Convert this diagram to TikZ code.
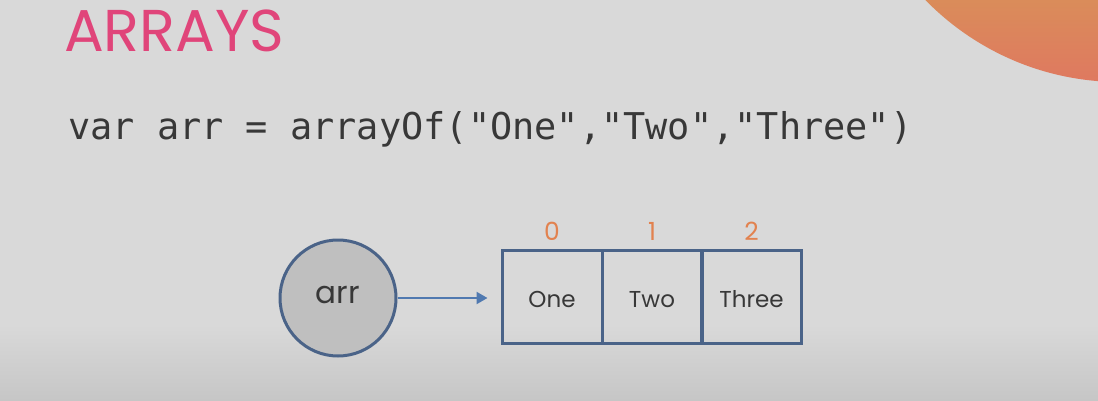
\documentclass[tikz,border=0pt]{standalone}
\usepackage{fontspec}
\setmainfont{Poppins}
\setmonofont{DejaVu Sans Mono}
\usetikzlibrary{arrows.meta}
\definecolor{bg}{HTML}{D9D9D9}
\definecolor{bgdark}{HTML}{C6C6C6}
\definecolor{titlepink}{HTML}{E0457A}
\definecolor{codegray}{HTML}{383838}
\definecolor{edgeblue}{HTML}{4A6388}
\definecolor{arrowblue}{HTML}{5079B0}
\definecolor{idxorange}{HTML}{E2824F}
\definecolor{blobtop}{HTML}{DA8C5A}
\definecolor{blobbottom}{HTML}{DF7860}
\definecolor{circfill}{HTML}{BFBFBF}
\tikzset{
  cell/.style={draw=edgeblue, line width=3pt, minimum width=100pt, minimum height=93pt,
    inner sep=0pt, text height=22pt, text depth=0pt,
    font=\fontsize{23}{26}\selectfont, text=codegray},
  index/.style={anchor=base, font=\fontsize{25}{28}\selectfont, text=idxorange},
  pointer/.style={arrowblue, line width=2.2pt, -{Triangle[length=11pt,width=12pt]}},
}
\begin{document}
\begin{tikzpicture}[x=1pt,y=-1pt]
  % backdrop with a darker band at the bottom
  \fill[bg] (0,0) rectangle (1098,401);
  \shade[top color=bg, bottom color=bgdark] (0,325) rectangle (1098,401);
  \useasboundingbox (0,0) rectangle (1098,401);
  % orange disc in the top right corner
  \begin{scope}
    \clip (1120,-190) circle (272);
    \shade[top color=blobtop, bottom color=blobbottom] (880,0) rectangle (1098,85);
  \end{scope}
  % heading and code line
  \node[anchor=base west, inner sep=0pt, text=titlepink,
        font=\fontsize{59}{63}\selectfont] (title) at (64,52) {ARRAYS};
  \node[anchor=base west, inner sep=0pt, text=codegray,
        font=\ttfamily\fontsize{36.9}{40}\selectfont] (code) at (68,140)
        {var arr = arrayOf("One","Two","Three")};
  % the variable
  \node[circle, draw=edgeblue, line width=3pt, fill=circfill, minimum size=116pt,
        inner sep=0pt, text height=10pt, text depth=0pt, text=codegray,
        font=\fontsize{31}{34}\selectfont] (arr) at (338,298) {arr};
  % the array cells
  \node[cell] (c0) at (552,296.5) {One};
  \node[cell] (c1) at (652,296.5) {Two};
  \node[cell] (c2) at (751.5,296.5) {Three};
  \node[index] (i0) at ([yshift=8pt]c0.north) {0};
  \node[index] (i1) at ([yshift=8pt]c1.north) {1};
  \node[index] (i2) at ([yshift=8pt]c2.north) {2};
  % reference arrow
  \draw[pointer, shorten >=13pt] (arr.east) -- (arr.east -| c0.west);
\end{tikzpicture}
\end{document}
